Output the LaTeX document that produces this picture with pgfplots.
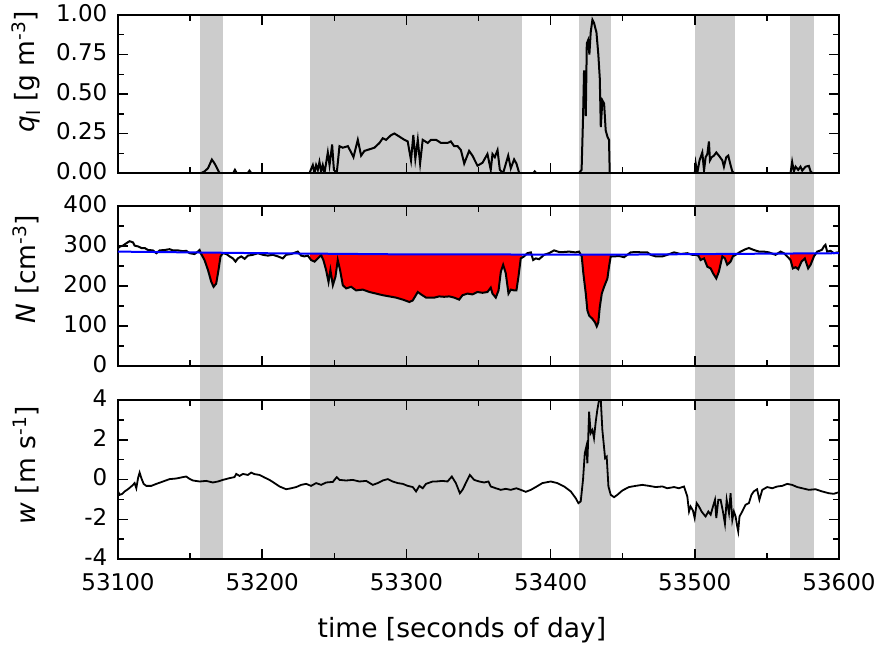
\documentclass[border=0pt]{standalone}
\usepackage{pgfplots}
\pgfplotsset{compat=1.18}
\usepackage{pgfplotstable}
\usepackage{fontspec}
\setmainfont{DejaVu Sans}
\definecolor{bandgray}{HTML}{CCCCCC}
\definecolor{fillred}{HTML}{FF0000}
\definecolor{baseblue}{HTML}{0000FF}

\pgfplotstableread{
t q
53100 0
53157.7 0
53160.0 0.01
53162.4 0.03
53165.1 0.085
53167.0 0.06
53170.4 0
53180 0
53181.1 0.02
53182.3 0
53190 0
53191.2 0.015
53192.4 0
53232.8 0
53235.1 0.05
53236.3 0.0
53237.4 0.05
53238.6 0.02
53239.7 0.07
53240.9 0.01
53242.0 0.05
53243.2 0.0
53245.5 0.13
53246.7 0.05
53248.5 0.18
53249.7 0.02
53251.7 0.0
53253.6 0.17
53255.9 0.16
53259.4 0.17
53261.7 0.13
53263.3 0.10
53266.3 0.21
53268.6 0.11
53270.9 0.14
53274.4 0.15
53277.8 0.16
53281.3 0.19
53283.6 0.22
53285.9 0.21
53289.4 0.24
53291.7 0.25
53295.2 0.23
53298.6 0.21
53300.9 0.20
53303.2 0.08
53304.8 0.24
53306.2 0.09
53307.9 0.21
53309.5 0.06
53311.3 0.21
53314.8 0.19
53317.1 0.21
53320.6 0.21
53324.0 0.19
53328.5 0.19
53330.8 0.20
53333.1 0.17
53335.5 0.17
53337.8 0.145
53340.1 0.06
53343.5 0.14
53345.8 0.11
53349.3 0.046
53352.8 0.065
53356.2 0.12
53358.5 0.02
53359.7 0.12
53361.3 0.10
53363.2 0.145
53364.8 0.02
53367.1 0.0
53370.6 0.11
53372.4 0.03
53374.7 0.086
53376.3 0.06
53378.2 0
53388 0
53389 0.01
53390 0
53419.7 0
53421.5 0.02
53422.5 0.35
53423.2 0.65
53424.4 0.36
53425.1 0.82
53426.0 0.84
53426.9 0.75
53427.8 0.89
53429.0 0.97
53430.1 0.95
53431.8 0.89
53433.1 0.75
53434.1 0.6
53434.8 0.29
53435.9 0.46
53437.1 0.44
53438.2 0.27
53439.4 0.23
53440.5 0.21
53441.0 0
53500 0
53500.6 0.06
53501.7 0.0
53503.3 0.08
53505.2 0.13
53506.4 0.015
53507.5 0.10
53508.7 0.12
53509.8 0.20
53510.5 0.08
53511.7 0.10
53513.3 0.11
53514.9 0.13
53516.7 0.11
53519.1 0.08
53520.2 0.04
53521.8 0.10
53523.2 0.11
53524.8 0.05
53526.0 0.01
53527.1 0
53566.4 0
53567.5 0.07
53568.7 0.01
53569.9 0.04
53571.7 0.02
53573.3 0.04
53574.5 0.015
53576.8 0.04
53579.1 0.045
53580.3 0.01
53581.4 0
53600 0
}\qdata

\pgfplotstableread{
t N
53100 295
53101.6 299
53103.5 301
53105.8 307
53108.1 312
53110.4 309
53111.5 301
53113.9 299
53116.2 295
53118.5 295
53120.8 290
53124.2 289
53126.6 282
53128.9 289
53132.3 290
53135.8 292
53138.1 289
53141.6 289
53145.0 287
53147.3 288
53149.7 282
53153.1 280
53155.4 286
53156.6 290
53157.7 280
53160.0 265
53162.4 240
53164.7 210
53166.3 198
53168.1 206
53169.7 240
53171.1 274
53172.7 282
53175.1 280
53177.4 274
53179.7 269
53181.5 261
53183.1 269
53185.5 274
53187.8 268
53190.1 276
53193.5 278
53197.0 282
53200.5 278
53203.9 276
53207.4 278
53210.9 274
53214.3 269
53216.6 278
53220.1 280
53224.7 286
53227.0 276
53229.3 274
53231.6 276
53233.9 265
53236.3 261
53238.6 269
53240.9 277
53242.5 264
53244.3 240
53246.0 210
53247.3 240
53249.0 202
53250.8 223
53252.4 265
53254.0 240
53255.9 202
53258.2 194
53261.7 198
53265.1 189
53269.7 191
53274.4 185
53279.0 181
53283.6 177
53288.2 174
53292.8 171
53297.5 166
53302.1 160
53304.4 164
53307.9 185
53310.2 179
53313.6 171
53319.3 171
53322.7 174
53326.2 173
53329.7 174
53333.1 171
53336.6 166
53338.9 177
53342.4 181
53345.8 179
53349.3 185
53352.8 183
53356.2 185
53358.5 196
53359.7 181
53362.0 171
53363.9 189
53365.5 236
53367.1 253
53368.9 232
53370.8 181
53372.4 191
53374.7 189
53376.3 189
53377.7 223
53379.3 269
53381.6 274
53383.9 282
53386.3 284
53387.9 265
53389.7 269
53392.0 267
53395.5 278
53398.9 282
53402.4 289
53405.9 285
53409.4 285
53412.8 286
53417.4 284
53419.7 286
53421.6 274
53422.7 232
53424.4 181
53425.5 139
53426.7 126
53429.0 118
53430.8 109
53432.0 99
53433.1 109
53434.1 147
53435.5 181
53437.1 198
53439.4 219
53440.5 248
53441.7 274
53444.0 274
53447.5 275
53450.9 272
53453.2 278
53455.5 284
53459.0 285
53463.6 284
53467.1 284
53469.4 278
53472.9 274
53477.5 274
53480.9 278
53485.6 284
53490.2 280
53494.8 282
53498.3 278
53500.6 278
53502.4 276
53504.0 265
53506.4 269
53508.7 248
53511.0 244
53512.6 232
53514.9 219
53516.7 236
53519.1 274
53520.9 269
53522.5 253
53524.8 261
53526.4 274
53528.3 278
53531.8 286
53535.2 292
53537.5 295
53541.0 290
53544.5 286
53547.9 286
53551.4 284
53556.0 278
53559.5 286
53561.8 282
53564.1 274
53566.4 265
53568.0 244
53569.9 247
53571.7 242
53574.0 261
53576.3 269
53578.6 244
53580.3 253
53582.6 274
53584.9 286
53587.2 289
53588.3 291
53589.5 299
53590.6 303
53591.8 286
53594.1 288
53596.4 282
53598.7 284
53600 283
}\Ndata

\pgfplotstableread{
t N
53157 283.7
53157.7 280
53160.0 265
53162.4 240
53164.7 210
53166.3 198
53168.1 206
53169.7 240
53171.1 274
53172.7 282
53173 283.1
}\redA

\pgfplotstableread{
t N
53233 281.0
53233 269.8
53233.9 265
53236.3 261
53238.6 269
53240.9 277
53242.5 264
53244.3 240
53246.0 210
53247.3 240
53249.0 202
53250.8 223
53252.4 265
53254.0 240
53255.9 202
53258.2 194
53261.7 198
53265.1 189
53269.7 191
53274.4 185
53279.0 181
53283.6 177
53288.2 174
53292.8 171
53297.5 166
53302.1 160
53304.4 164
53307.9 185
53310.2 179
53313.6 171
53319.3 171
53322.7 174
53326.2 173
53329.7 174
53333.1 171
53336.6 166
53338.9 177
53342.4 181
53345.8 179
53349.3 185
53352.8 183
53356.2 185
53358.5 196
53359.7 181
53362.0 171
53363.9 189
53365.5 236
53367.1 253
53368.9 232
53370.8 181
53372.4 191
53374.7 189
53376.3 189
53377.7 223
53379.3 269
53380 270.5
53380 278.7
53300 279
53233 281.0
}\redB

\pgfplotstableread{
t N
53420.9 278.6
53421.6 274
53422.7 232
53424.4 181
53425.5 139
53426.7 126
53429.0 118
53430.8 109
53432.0 99
53433.1 109
53434.1 147
53435.5 181
53437.1 198
53439.4 219
53440.5 248
53441.7 274
53442 274
53442 278.5
}\redC

\pgfplotstableread{
t N
53500 279.7
53500 278
53500.6 278
53502.4 276
53504.0 265
53506.4 269
53508.7 248
53511.0 244
53512.6 232
53514.9 219
53516.7 236
53519.1 274
53520.9 269
53522.5 253
53524.8 261
53526.4 274
53528 278
53528 280.3
}\redD

\pgfplotstableread{
t N
53566 281.2
53566 266.6
53566.4 265
53568.0 244
53569.9 247
53571.7 242
53574.0 261
53576.3 269
53578.6 244
53580.3 253
53582.6 274
53583 276
53583 281.6
}\redE

\pgfplotstableread{
t w
53100 -0.6
53101.2 -0.77
53103.0 -0.72
53104.6 -0.6
53106.9 -0.49
53109.2 -0.35
53110.4 -0.27
53111.5 -0.18
53112.7 -0.44
53113.9 0.07
53115.0 0.35
53116.2 0.07
53117.8 -0.22
53119.6 -0.32
53123.1 -0.32
53126.6 -0.22
53131.2 -0.1
53135.8 0.02
53140.4 0.05
53145.0 0.12
53147.3 0.15
53149.7 0.03
53152.0 -0.05
53156.6 -0.1
53161.2 -0.07
53165.8 -0.15
53169.3 -0.1
53172.7 -0.02
53177.4 0.07
53180.8 0.12
53182.0 0.28
53184.3 0.18
53186.6 0.28
53190.1 0.23
53192.4 0.35
53194.7 0.27
53198.2 0.23
53201.6 0.1
53205.1 -0.02
53208.5 -0.18
53212.0 -0.35
53216.6 -0.49
53220.1 -0.44
53223.6 -0.38
53227.0 -0.27
53230.5 -0.22
53233.9 -0.32
53237.4 -0.18
53240.9 -0.27
53244.3 -0.15
53249.0 -0.12
53251.7 0.12
53253.6 -0.02
53258.2 -0.05
53262.8 -0.02
53267.4 -0.1
53272.1 -0.07
53276.7 -0.27
53280.1 -0.18
53283.6 -0.05
53287.1 0.02
53290.5 -0.1
53294.0 -0.18
53297.5 -0.22
53300.9 -0.32
53304.4 -0.38
53306.7 -0.6
53309.0 -0.32
53311.3 -0.44
53313.6 -0.22
53318.2 -0.1
53320.4 -0.1
53325.1 -0.07
53328.5 -0.1
53331.5 0.15
53334.3 -0.18
53337.1 -0.69
53338.9 -0.52
53341.2 -0.18
53344.0 0.23
53347.0 -0.02
53350.5 -0.1
53353.9 -0.15
53356.9 -0.1
53358.5 -0.35
53362.0 -0.44
53365.5 -0.52
53368.9 -0.47
53372.4 -0.52
53376.3 -0.44
53379.3 -0.52
53382.8 -0.62
53386.3 -0.52
53389.7 -0.38
53394.3 -0.18
53400.1 -0.1
53404.7 -0.18
53409.4 -0.35
53414.0 -0.6
53417.4 -0.94
53419.3 -1.19
53420.9 -1.1
53422.5 0
53423.7 1.32
53424.8 1.66
53425.5 0.82
53426.7 3.41
53427.8 2.33
53429.0 2.49
53430.1 2.08
53431.3 2.91
53432.4 3.5
53433.6 4.0
53434.8 4.0
53435.9 2.49
53437.8 1.07
53438.9 1.15
53440.1 -0.35
53441.7 -0.77
53444.0 -0.89
53446.3 -0.77
53449.8 -0.55
53454.4 -0.38
53459.0 -0.32
53463.6 -0.27
53468.2 -0.32
53472.9 -0.38
53477.5 -0.35
53480.9 -0.44
53485.6 -0.38
53489.0 -0.44
53492.5 -0.35
53494.8 -0.85
53496.0 -1.61
53497.1 -1.36
53498.7 -1.56
53499.9 -1.94
53501.3 -1.19
53502.9 -1.36
53504.7 -1.61
53506.4 -1.77
53507.5 -1.86
53509.4 -1.61
53511.0 -1.77
53512.6 -1.36
53514.0 -1.02
53514.9 -1.94
53516.3 -1.02
53517.9 -1.02
53519.5 -1.61
53520.9 -2.23
53522.1 -1.02
53523.7 -1.69
53524.8 -0.69
53526.0 -2.03
53527.1 -1.61
53528.3 -1.86
53529.4 -2.36
53530.1 -2.61
53531.0 -1.86
53532.9 -1.61
53535.2 -1.27
53537.5 -1.19
53539.3 -0.77
53540.9 -0.6
53543.2 -0.49
53544.8 -1.02
53546.8 -0.52
53550.2 -0.38
53553.7 -0.44
53557.2 -0.35
53560.6 -0.32
53564.1 -0.22
53567.5 -0.27
53571.0 -0.38
53574.5 -0.44
53579.1 -0.52
53583.7 -0.49
53588.3 -0.6
53592.9 -0.69
53596.4 -0.72
53599.4 -0.65
53600 -0.65
}\wdata

\newcommand{\ticksize}{\fontsize{23}{27}\selectfont}
\newcommand{\labsize}{\fontsize{26.5}{31}\selectfont}

\pgfplotsset{
  panel/.style={
    scale only axis, width=721pt,
    xmin=53100, xmax=53600,
    xtick={53100,53200,...,53600}, minor x tick num=1,
    scaled x ticks=false,
    minor y tick num=1,
    tick align=inside, tick pos=both,
    axis line style={line width=2pt},
    major tick length=10pt, minor tick length=6pt,
    major tick style={black, line width=1.5pt},
    minor tick style={black, line width=1.5pt},
    tick label style={font=\ticksize},
    label style={font=\labsize},
    yticklabel style={xshift=-3.5pt, yshift=2pt, inner sep=2pt, xshift=-5pt},
    xticklabel style={yshift=-7.5pt, inner sep=2pt, yshift=-5pt, /pgf/number format/fixed, /pgf/number format/precision=0},
    /pgf/number format/assume math mode=true,
    /pgf/number format/set thousands separator={},
  },
}

\begin{document}
\begin{tikzpicture}
\useasboundingbox (-118pt,-90pt) rectangle (762pt,559pt);

% gray cloud bands behind all panels
\begin{axis}[at={(0pt,0pt)}, anchor=south west, scale only axis, width=721pt, height=544pt,
  xmin=53100, xmax=53600, ymin=0, ymax=1, hide axis]
\addplot[fill=bandgray, draw=none] coordinates {(53157,0) (53173,0) (53173,1) (53157,1)};
\addplot[fill=bandgray, draw=none] coordinates {(53233,0) (53380,0) (53380,1) (53233,1)};
\addplot[fill=bandgray, draw=none] coordinates {(53420,0) (53442,0) (53442,1) (53420,1)};
\addplot[fill=bandgray, draw=none] coordinates {(53500,0) (53528,0) (53528,1) (53500,1)};
\addplot[fill=bandgray, draw=none] coordinates {(53566,0) (53583,0) (53583,1) (53566,1)};
\end{axis}

% top panel: liquid water content
\begin{axis}[panel, at={(0pt,386pt)}, anchor=south west, height=158pt,
  ymin=0, ymax=1, ytick={0,0.25,0.5,0.75,1},
  yticklabel style={/pgf/number format/fixed, /pgf/number format/fixed zerofill, /pgf/number format/precision=2},
  xticklabel=\empty,
  ylabel={{\itshape q}\textsubscript{l} [g m\textsuperscript{-3}]},
  ylabel style={at={(axis description cs:-0.1276,0.64)}, anchor=center}]
\addplot[black, line width=2pt] table[x=t, y=q] {\qdata};
\end{axis}

% middle panel: number concentration
\begin{axis}[panel, at={(0pt,193pt)}, anchor=south west, height=160pt,
  ymin=0, ymax=400, ytick={0,100,...,400},
  xticklabel=\empty,
  ylabel={{\itshape N} [cm\textsuperscript{-3}]},
  ylabel style={at={(axis description cs:-0.1276,0.606)}, anchor=center}]
\addplot[fill=fillred, draw=none] table[x=t, y=N] {\redA};
\addplot[fill=fillred, draw=none] table[x=t, y=N] {\redB};
\addplot[fill=fillred, draw=none] table[x=t, y=N] {\redC};
\addplot[fill=fillred, draw=none] table[x=t, y=N] {\redD};
\addplot[fill=fillred, draw=none] table[x=t, y=N] {\redE};
\addplot[black, line width=2pt] table[x=t, y=N] {\Ndata};
\addplot[baseblue, line width=2pt] coordinates {(53100,286) (53200,282) (53300,279) (53450,278.5) (53600,282)};
\end{axis}

% bottom panel: vertical velocity
\begin{axis}[panel, at={(0pt,0pt)}, anchor=south west, height=159pt,
  ymin=-4, ymax=4, ytick={-4,-2,...,4},
  xlabel={time [seconds of day]},
  xlabel style={at={(axis description cs:0.477,0)}, anchor=center, yshift=-71pt},
  ylabel={{\itshape w} [m s\textsuperscript{-1}]},
  ylabel style={at={(axis description cs:-0.1276,0.59)}, anchor=center}]
\addplot[black, line width=1.8pt] table[x=t, y=w] {\wdata};
\end{axis}
\end{tikzpicture}
\end{document}
